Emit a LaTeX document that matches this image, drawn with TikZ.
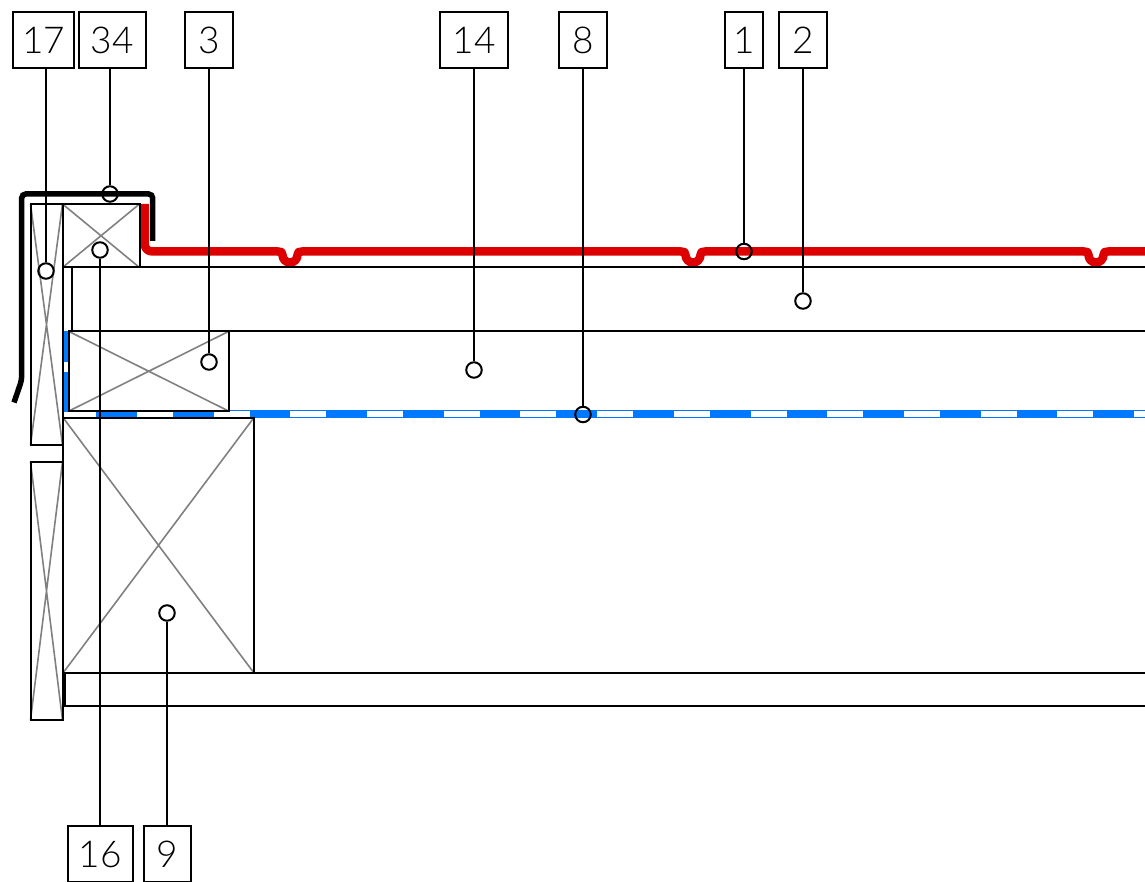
\documentclass[tikz,border=0pt]{standalone}
\usepackage{fontspec}
\setsansfont{Lato Light}
\definecolor{rf}{HTML}{DD0000}
\definecolor{bl}{HTML}{0078FF}
\definecolor{gl}{HTML}{808080}
\newcommand{\lift}[2]{\raisebox{#1}{#2}}
\tikzset{
 lab/.style={draw=black,line width=2pt,fill=white,inner sep=0pt,minimum height=56pt,font=\sffamily\fontsize{37}{37}\selectfont,text=black},
 dot/.style={circle,draw=black,line width=2pt,inner sep=0pt,minimum size=15.5pt},
 lead/.style={line width=2pt,black},
 edge/.style={line width=2pt,black},
 crossl/.style={line width=1.6pt,gl},
}
\begin{document}
\begin{tikzpicture}[x=1pt,y=-1pt]
\useasboundingbox (0,0) rectangle (1145,882);
% blue layer
\fill[bl] (63,331) rectangle (69,411);
\fill[white] (63,362) rectangle (69,372);
\draw[bl,line width=8.4pt] (63,414.2) -- (1145,414.2);
\fill[white] (63,411.5) rectangle (96,417);
\draw[white,line width=5.5pt,dash pattern=on 36pt off 40.7pt] (136.9,414) -- (1145,414);
% red
\draw[rf,line width=8.5pt,line join=round] (144.7,204) -- (144.7,243.5)
 .. controls (144.7,248.5) and (147.5,251.5) .. (152.7,251.5)
 -- (278,251.5)
 .. controls (281,251.5) and (282.5,252) .. (282.5,255)
 .. controls (282.5,259.1) and (285.9,262.6) .. (290,262.6)
 .. controls (294.1,262.6) and (297.5,259.1) .. (297.5,255)
 .. controls (297.5,252) and (299,251.5) .. (302,251.5)
 -- (681,251.5)
 .. controls (684,251.5) and (685.5,252) .. (685.5,255)
 .. controls (685.5,259.1) and (688.9,262.6) .. (693,262.6)
 .. controls (697.1,262.6) and (700.5,259.1) .. (700.5,255)
 .. controls (700.5,252) and (702,251.5) .. (705,251.5)
 -- (1084,251.5)
 .. controls (1087,251.5) and (1088.5,252) .. (1088.5,255)
 .. controls (1088.5,259.1) and (1091.9,262.6) .. (1096,262.6)
 .. controls (1100.1,262.6) and (1103.5,259.1) .. (1103.5,255)
 .. controls (1103.5,252) and (1105,251.5) .. (1108,251.5)
 -- (1145,251.5);
% crosses
\foreach \a/\b/\c/\d in {30.5/204/62.5/445, 30.5/462/62.5/720, 62.5/204/139.5/267.5, 69/331.5/228.5/411, 63/417.5/254/673}{
 \draw[crossl] (\a,\b) -- (\c,\d) (\a,\d) -- (\c,\b);
 \draw[edge] (\a,\b) rectangle (\c,\d);
}
% layer lines
\draw[edge] (62.5,204) -- (62.5,720);
\draw[edge] (139.5,267.5) -- (1145,267.5);
\draw[edge] (72,267.5) -- (72,331.5);
\draw[edge] (228.5,331.5) -- (1145,331.5);
\draw[edge] (254,673) -- (1145,673);
\draw[edge] (65,673) -- (65,705.5) -- (1145,705.5);
% black flashing
\draw[black,line width=5.5pt,rounded corners=4pt] (14,402.5) -- (21.7,380) -- (21.7,194) -- (152.7,194) -- (152.7,241);
% labels
\node[lab,minimum width=61.5pt] (n17) at (43.5,40) {\lift{-1pt}{17}};
\node[lab,minimum width=67pt] (n34) at (112.2,40) {\lift{-1pt}{34}};
\node[lab,minimum width=48pt] (n3) at (209,40) {\lift{-1pt}{3}};
\node[lab,minimum width=68pt] (n14) at (474,40) {\lift{-1pt}{14}};
\node[lab,minimum width=48pt] (n8) at (583,40) {\lift{-1pt}{8}};
\node[lab,minimum width=38pt] (n1) at (744,40) {\lift{-1pt}{1}};
\node[lab,minimum width=48pt] (n2) at (803,40) {\lift{-1pt}{2}};
\node[lab,minimum width=65pt] (n16) at (100,854) {\lift{-2pt}{16}};
\node[lab,minimum width=47pt] (n9) at (167,854) {\lift{-2pt}{9}};
% dots
\node[dot] (d17) at (46,271) {};
\node[dot] (d34) at (110,194) {};
\node[dot] (d3) at (209,362) {};
\node[dot] (d14) at (474,370) {};
\node[dot] (d8) at (583,414.5) {};
\node[dot] (d1) at (744,251.5) {};
\node[dot] (d2) at (803,301) {};
\node[dot] (d16) at (100,250) {};
\node[dot] (d9) at (167,613) {};
% leaders
\draw[lead] (d17.north) -- (d17.north |- n17.south);
\draw[lead] (d34.north) -- (d34.north |- n34.south);
\draw[lead] (d3.north) -- (n3.south);
\draw[lead] (d14.north) -- (n14.south);
\draw[lead] (d8.north) -- (n8.south);
\draw[lead] (d1.north) -- (n1.south);
\draw[lead] (d2.north) -- (n2.south);
\draw[lead] (d16.south) -- (n16.north);
\draw[lead] (d9.south) -- (n9.north);
\end{tikzpicture}
\end{document}
